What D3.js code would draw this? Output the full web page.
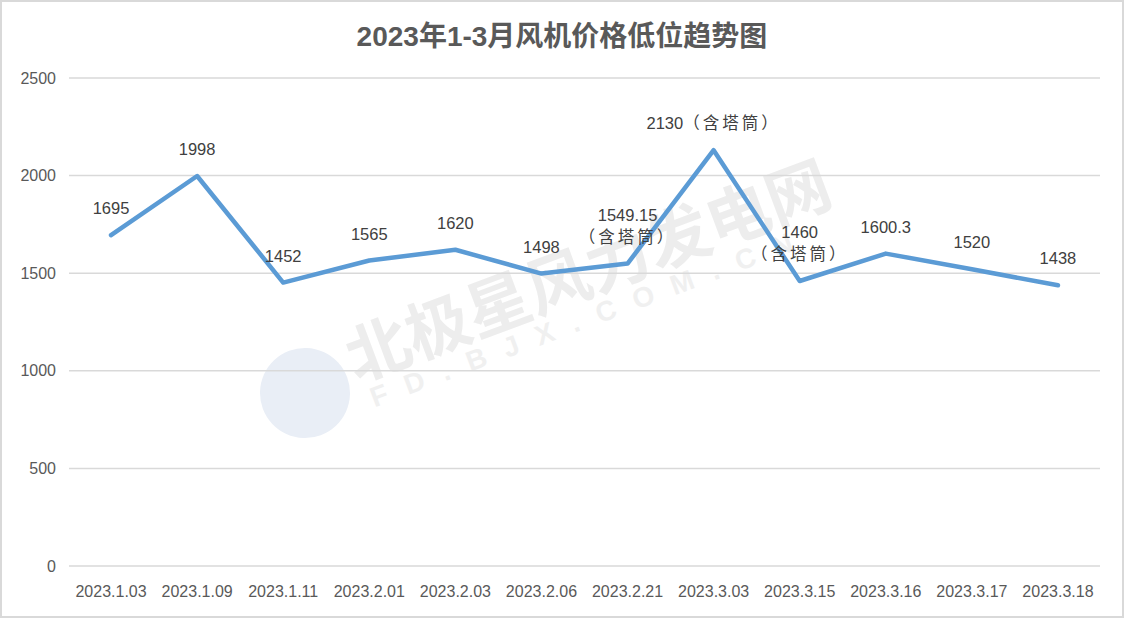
<!DOCTYPE html>
<html><head><meta charset="utf-8">
<script src="https://cdn.jsdelivr.net/npm/d3@7/dist/d3.min.js"></script>
<style>
html,body{margin:0;padding:0;background:#fff;}
svg{display:block;font-family:"Liberation Sans","Noto Sans CJK SC",sans-serif;}
</style></head>
<body>
<script>
const title = "2023年1-3月风机价格低位趋势图";
const categories = ["2023.1.03","2023.1.09","2023.1.11","2023.2.01","2023.2.03","2023.2.06","2023.2.21","2023.3.03","2023.3.15","2023.3.16","2023.3.17","2023.3.18"];
const values = [1695,1998,1452,1565,1620,1498,1549.15,2130,1460,1600.3,1520,1438];
const labelLines = [["1695"],["1998"],["1452"],["1565"],["1620"],["1498"],["1549.15","（含塔筒）"],["2130（含塔筒）"],["1460","（含塔筒）"],["1600.3"],["1520"],["1438"]];
const yTicks = [0,500,1000,1500,2000,2500];

const W = 1125, H = 619;
const svg = d3.select("body").append("svg").attr("width", W).attr("height", H);

svg.append("rect").attr("x",1).attr("y",1).attr("width",W-3).attr("height",H-3)
  .attr("fill","#fff").attr("stroke","#d9d9d9").attr("stroke-width",2);

const x = d3.scaleBand().domain(categories).range([68, 1101]);
const y = d3.scaleLinear().domain([0, 2500]).range([566, 78]);

// watermark
const wm = svg.append("g").attr("transform","translate(305,393) rotate(-20.5)");
wm.append("circle").attr("cx",0).attr("cy",0).attr("r",45).attr("fill","#e9eef6");
wm.append("text").attr("x",52).attr("y",8).attr("font-size",64).attr("font-weight","bold")
  .attr("fill","#ededed").attr("font-family","'Noto Sans CJK SC',sans-serif").text("北极星风力发电网");
wm.append("text").attr("x",60).attr("y",38).attr("font-size",28).attr("font-weight","bold")
  .attr("fill","#f0f0f0").attr("letter-spacing",19).text("FD.BJX.COM.CN");

// gridlines
svg.append("g").selectAll("line").data(yTicks).join("line")
  .attr("x1",69).attr("x2",1100).attr("y1",d=>y(d)).attr("y2",d=>y(d))
  .attr("stroke","#d9d9d9").attr("stroke-width",1.5);

// y axis labels
svg.append("g").selectAll("text").data(yTicks).join("text")
  .attr("x",56).attr("y",d=>y(d)).attr("dy","0.35em").attr("text-anchor","end")
  .attr("font-size",16).attr("fill","#595959").text(d=>d);

// x axis labels
svg.append("g").selectAll("text").data(categories).join("text")
  .attr("x",d=>x(d)+x.bandwidth()/2).attr("y",597).attr("text-anchor","middle")
  .attr("font-size",16).attr("fill","#595959").text(d=>d);

// line
const line = d3.line().x((d,i)=>x(categories[i])+x.bandwidth()/2).y(d=>y(d));
svg.append("path").datum(values).attr("d",line).attr("fill","none")
  .attr("stroke","#5b9bd5").attr("stroke-width",4.5).attr("stroke-linejoin","round").attr("stroke-linecap","round");

// data labels
const lg = svg.append("g");
values.forEach((v,i)=>{
  const cx = x(categories[i]) + x.bandwidth()/2;
  const lines = labelLines[i];
  const base = y(v) - 21;
  lines.forEach((t,j)=>{
    const tx = lg.append("text").attr("x",cx).attr("y",base - (lines.length-1-j)*22)
      .attr("text-anchor","middle").attr("font-size",16.5).attr("fill","#404040");
    const k = t.indexOf("（");
    if (k >= 0) {
      if (k > 0) tx.append("tspan").text(t.slice(0,k));
      tx.append("tspan").attr("letter-spacing",3).attr("font-family","'Noto Sans CJK SC',sans-serif").text(t.slice(k));
    } else {
      tx.text(t);
    }
  });
});

// title
svg.append("text").attr("x",562).attr("y",46).attr("text-anchor","middle")
  .attr("font-size",28).attr("font-weight","bold").attr("fill","#595959").text(title);
</script>
</body></html>
